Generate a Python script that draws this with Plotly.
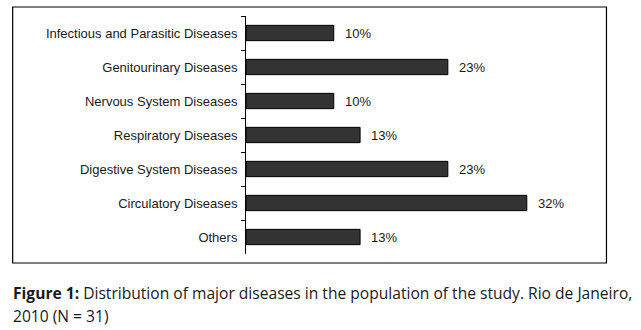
import plotly.graph_objects as go

# Major disease groups, N = 31
categories = [
    "Infectious and Parasitic Diseases",
    "Genitourinary Diseases",
    "Nervous System Diseases",
    "Respiratory Diseases",
    "Digestive System Diseases",
    "Circulatory Diseases",
    "Others",
]
percentages = [10, 23, 10, 13, 23, 32, 13]
value_labels = [f"{v}%" for v in percentages]

caption_bold = "Figure 1:"
caption_rest = " Distribution of major diseases in the population of the study. Rio de Janeiro,"
caption_line2 = "2010 (N = 31)"

W, H = 641, 330
L, R, T, B = 245.5, 597.5, 16, 254   # plot-area pixel edges

LABEL_FONT = dict(family="Liberation Sans, Arial", size=13, color="#1a1a1a")
CAPTION_FONT = dict(family="Open Sans, Lato, Calibri", size=15.6, color="#1a1a1a")


def px_x(x):
    return (x - L) / (R - L)


def px_y(y):
    return (B - y) / (B - T)


fig = go.Figure(
    go.Bar(
        x=percentages,
        y=categories,
        orientation="h",
        width=0.45,
        marker=dict(color="#333333", line=dict(color="#000000", width=1)),
        hoverinfo="skip",
    )
)

# value labels placed just past the end of each bar
value_annotations = [
    dict(
        x=v,
        y=c,
        xref="x",
        yref="y",
        text=t,
        showarrow=False,
        xanchor="left",
        yanchor="middle",
        xshift=9,
        font=LABEL_FONT,
    )
    for c, v, t in zip(categories, percentages, value_labels)
]

caption_annotations = [
    dict(
        xref="paper",
        yref="paper",
        x=px_x(10),
        y=px_y(293),
        xanchor="left",
        yanchor="middle",
        text=f"<b>{caption_bold}</b>{caption_rest}",
        showarrow=False,
        font=CAPTION_FONT,
    ),
    dict(
        xref="paper",
        yref="paper",
        x=px_x(10),
        y=px_y(316),
        xanchor="left",
        yanchor="middle",
        text=caption_line2,
        showarrow=False,
        font=CAPTION_FONT,
    ),
]

fig.update_layout(
    width=W,
    height=H,
    margin=dict(l=L, r=W - R, t=T, b=H - B, pad=0),
    paper_bgcolor="white",
    plot_bgcolor="white",
    showlegend=False,
    xaxis=dict(range=[0, 40], visible=False, fixedrange=True),
    yaxis=dict(
        type="category",
        autorange="reversed",
        showline=True,
        linecolor="#000000",
        linewidth=1,
        ticks="outside",
        tickson="boundaries",
        ticklen=4,
        tickcolor="#000000",
        ticklabelstandoff=5,
        showgrid=False,
        tickfont=LABEL_FONT,
    ),
    shapes=[
        dict(
            type="rect",
            xref="paper",
            yref="paper",
            x0=px_x(11.5),
            x1=px_x(607),
            y0=px_y(263),
            y1=px_y(7),
            line=dict(color="#000000", width=1.2),
            fillcolor="rgba(0,0,0,0)",
            layer="below",
        )
    ],
    annotations=value_annotations + caption_annotations,
)

fig.write_html("out.html", config={"displayModeBar": False})
